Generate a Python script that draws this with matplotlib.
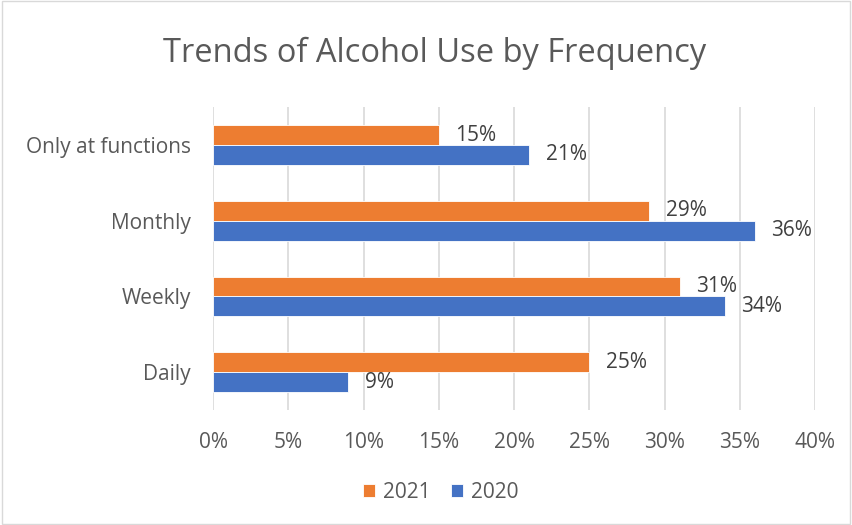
import matplotlib.pyplot as plt
import numpy as np

categories = ["Daily", "Weekly", "Monthly", "Only at functions"]
values_2021 = [25, 31, 29, 15]
values_2020 = [9, 34, 36, 21]
xticks = [0, 5, 10, 15, 20, 25, 30, 35, 40]

TEXT = "#595959"
ORANGE = "#ED7D31"
BLUE = "#4472C4"

plt.rcParams["font.family"] = ["Open Sans", "DejaVu Sans"]

fig = plt.figure(figsize=(8.52, 5.25), dpi=100)
ax = fig.add_axes([0.25, 0.219, 0.7066, 0.577])

y = np.arange(len(categories))
h = 0.263
b21 = ax.barh(y + h / 2, values_2021, height=h, color=ORANGE, edgecolor="white", linewidth=0.6, label="2021", zorder=3)
b20 = ax.barh(y - h / 2, values_2020, height=h, color=BLUE, edgecolor="white", linewidth=0.6, label="2020", zorder=3)

for bars, vals in ((b21, values_2021), (b20, values_2020)):
    for bar, v in zip(bars, vals):
        ax.annotate(f"{v}%", (bar.get_width(), bar.get_y() + bar.get_height() / 2),
                    xytext=(12, 0), textcoords="offset points", va="center", ha="left",
                    fontsize=15, color="#404040")

ax.set_xlim(0, 40)
ax.set_ylim(-0.5, len(categories) - 0.5)
ax.set_xticks(xticks)
ax.set_xticklabels([f"{t}%" for t in xticks])
ax.set_yticks(y)
ax.set_yticklabels(categories)
ax.tick_params(axis="both", length=0, labelsize=15, labelcolor=TEXT)
ax.tick_params(axis="x", pad=16)
ax.tick_params(axis="y", pad=16)
ax.grid(True, axis="x", color="#D9D9D9", linewidth=1.2, zorder=0)
for s in ax.spines.values():
    s.set_visible(False)

fig.suptitle("Trends of Alcohol Use by Frequency", x=0.51, y=0.93, fontsize=23.5, color=TEXT)

handles = [b21, b20]
fig.legend(handles, ["2021", "2020"], loc="center", bbox_to_anchor=(0.517, 0.062), ncol=2,
           frameon=False, fontsize=15, labelcolor=TEXT, handlelength=0.6, handleheight=0.6,
           handletextpad=0.35, columnspacing=1.0)

border = plt.Rectangle((0.002, 0.002), 0.996, 0.996, transform=fig.transFigure,
                       fill=False, edgecolor="#D9D9D9", linewidth=1)
fig.add_artist(border)

fig.savefig("out.png", dpi=100)
